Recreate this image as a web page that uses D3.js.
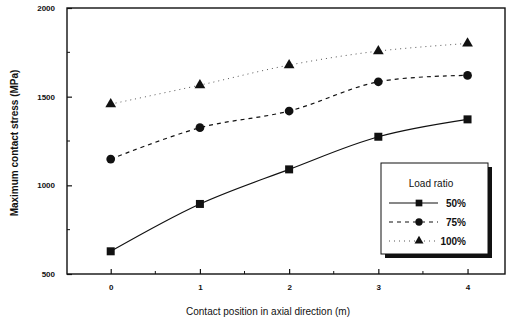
<!DOCTYPE html>
<html>
<head>
<meta charset="utf-8">
<script src="https://cdn.jsdelivr.net/npm/d3@7/dist/d3.min.js"></script>
<style>
  body { margin: 0; background: #fff; }
  text { font-family: "Liberation Sans", Arial, sans-serif; fill: #111; }
</style>
</head>
<body>
<div id="chart"></div>
<script>
// values
var positions = [0, 1, 2, 3, 4];
var stress50 = [628, 895, 1090, 1274, 1372];
var stress75 = [1148, 1325, 1419, 1584, 1620];
var stress100 = [1458, 1565, 1678, 1757, 1800];
var seriesNames = ["50%", "75%", "100%"];
var yTicks = [500, 1000, 1500, 2000];
var xTicks = [0, 1, 2, 3, 4];

var W = 513, H = 320;
var margin = {top: 8, right: 8, bottom: 46, left: 67};
var width = W - margin.left - margin.right,
    height = H - margin.top - margin.bottom;

var svg = d3.select("#chart").append("svg")
  .attr("width", W).attr("height", H);
var g = svg.append("g")
  .attr("transform", "translate(" + margin.left + "," + margin.top + ")");

var x = d3.scaleLinear().domain([-0.49, 4.42]).range([0, width]);
var y = d3.scaleLinear().domain([500, 2000]).range([height, 0]);

// frame
g.append("rect").attr("width", width).attr("height", height)
  .attr("fill", "none").attr("stroke", "#111").attr("stroke-width", 1.4);

// ticks (inward) + labels
var xAxis = d3.axisBottom(x).tickValues(xTicks).tickSize(-5).tickPadding(10).tickFormat(d3.format("d"));
var gx = g.append("g").attr("transform", "translate(0," + height + ")").call(xAxis);
var yAxis = d3.axisLeft(y).tickValues(yTicks).tickSize(-5).tickPadding(12).tickFormat(d3.format("d"));
var gy = g.append("g").call(yAxis);
[gx, gy].forEach(function(a) {
  a.select(".domain").remove();
  a.selectAll("line").attr("stroke", "#111").attr("stroke-width", 1.2);
  a.selectAll("text").style("font-size", "8px").style("font-weight", "bold");
});
// minor ticks
g.append("g").selectAll("line").data([0.5, 1.5, 2.5, 3.5]).enter().append("line")
  .attr("x1", function(d) { return x(d); }).attr("x2", function(d) { return x(d); })
  .attr("y1", height).attr("y2", height - 3).attr("stroke", "#111");
g.append("g").selectAll("line").data([750, 1250, 1750]).enter().append("line")
  .attr("y1", function(d) { return y(d); }).attr("y2", function(d) { return y(d); })
  .attr("x1", 0).attr("x2", 3).attr("stroke", "#111");

// series
var series = [
  {name: seriesNames[0], vals: stress50, dash: null, sym: d3.symbolSquare, size: 64, color: "#111", w: 1.2},
  {name: seriesNames[1], vals: stress75, dash: "4,4", sym: d3.symbolCircle, size: 60, color: "#111", w: 1.2},
  {name: seriesNames[2], vals: stress100, dash: "1,4", sym: d3.symbolTriangle, size: 50, color: "#555", w: 1}
];

var line = d3.line()
  .x(function(d, i) { return x(positions[i]); })
  .y(function(d) { return y(d); })
  .curve(d3.curveCatmullRom.alpha(0.5));

series.forEach(function(s) {
  g.append("path").datum(s.vals)
    .attr("d", line)
    .attr("fill", "none")
    .attr("stroke", s.color)
    .attr("stroke-width", s.w)
    .attr("stroke-dasharray", s.dash);
  g.selectAll(null).data(s.vals).enter().append("path")
    .attr("d", d3.symbol().type(s.sym).size(s.size))
    .attr("transform", function(d, i) { return "translate(" + x(positions[i]) + "," + y(d) + ")"; })
    .attr("fill", "#111");
});

// legend
var lg = svg.append("g").attr("transform", "translate(381,163)");
lg.append("rect").attr("x", 4).attr("y", 4).attr("width", 107).attr("height", 91).attr("fill", "#111");
lg.append("rect").attr("width", 107).attr("height", 91).attr("fill", "#fff")
  .attr("stroke", "#111").attr("stroke-width", 1);
lg.append("text").attr("x", 50).attr("y", 24).attr("text-anchor", "middle")
  .style("font-size", "10px").text("Load ratio");
series.forEach(function(s, i) {
  var yy = 40 + i * 19;
  lg.append("line").attr("x1", 8).attr("x2", 57).attr("y1", yy).attr("y2", yy)
    .attr("stroke", s.color).attr("stroke-width", s.w).attr("stroke-dasharray", s.dash);
  lg.append("path").attr("d", d3.symbol().type(s.sym).size(s.size * 0.7))
    .attr("transform", "translate(38," + yy + ")").attr("fill", "#111");
  lg.append("text").attr("x", 85).attr("y", yy + 4).attr("text-anchor", "end")
    .style("font-size", "10px").style("font-weight", "bold").text(s.name);
});

// axis titles
svg.append("text").attr("x", 268).attr("y", 315).attr("text-anchor", "middle")
  .style("font-size", "10px").text("Contact position in axial direction (m)");
svg.append("text").attr("transform", "translate(18,143) rotate(-90)").attr("text-anchor", "middle")
  .style("font-size", "10px").style("font-weight", "bold").text("Maximum contact stress (MPa)");
</script>
</body>
</html>
